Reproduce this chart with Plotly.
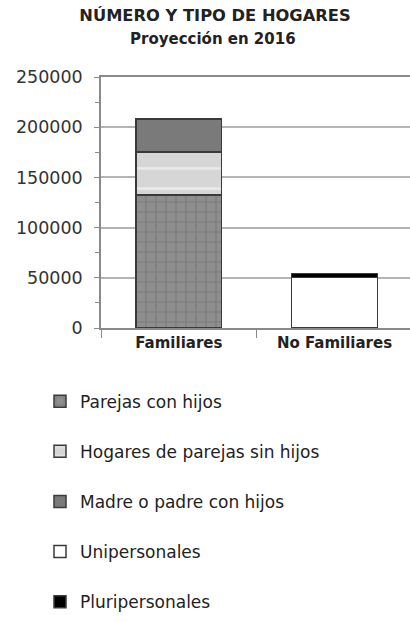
import plotly.graph_objects as go

categories = ["Familiares", "No Familiares"]
series_names = ["Parejas con hijos", "Hogares de parejas sin hijos", "Madre o padre con hijos",
                "Unipersonales", "Pluripersonales"]
series_category = ["Familiares", "Familiares", "Familiares", "No Familiares", "No Familiares"]
series_values = [132500, 43000, 32500, 50500, 4000]
y_ticks = [0, 50000, 100000, 150000, 200000, 250000]

styles = [
    dict(color="#8e8e8e", pattern=dict(shape="+", bgcolor="#8e8e8e", fgcolor="#666666", size=10, solidity=0.22)),
    dict(color="#d6d6d6", pattern=dict(shape="-", bgcolor="#d6d6d6", fgcolor="#ffffff", size=20.3, solidity=0.12)),
    dict(color="#7a7a7a"),
    dict(color="#ffffff"),
    dict(color="#000000"),
]

fig = go.Figure()
for i, (name, cat, val) in enumerate(zip(series_names, series_category, series_values)):
    m = dict(styles[i])
    m["line"] = dict(color="#3a3a3a", width=1.5)
    fig.add_trace(go.Bar(x=[cat], y=[val], name=name, marker=m, legendgroup=f"g{i}"))

L, T, PW, PH = 101, 77, 309, 251

fig.update_layout(
    width=410, height=622,
    barmode="stack", bargap=0.45,
    plot_bgcolor="white", paper_bgcolor="white",
    margin=dict(l=L, r=0, t=T, b=622 - T - PH),
    font=dict(family="DejaVu Sans", color="#222222"),
    title=dict(text="<b>NÚMERO Y TIPO DE HOGARES</b>", x=215 / 410, xanchor="center",
               y=1 - 15 / 622, yanchor="middle", font=dict(size=16.3, family="DejaVu Sans")),
    annotations=[dict(text="<b>Proyección en 2016</b>", xref="paper", yref="paper",
                      x=(213 - L) / PW, y=1 + (T - 39) / PH, xanchor="center", yanchor="middle",
                      showarrow=False, font=dict(size=15, family="DejaVu Sans"))],
    showlegend=True,
    legend=dict(x=(40 - L) / PW, y=-0.222, xref="paper", yref="paper",
                xanchor="left", yanchor="top", traceorder="grouped", tracegroupgap=25,
                font=dict(size=17, family="DejaVu Sans", color="#222222"),
                bgcolor="rgba(0,0,0,0)"),
    xaxis=dict(categoryorder="array", categoryarray=categories, range=[-0.5, 1.485],
               showline=True, linecolor="#8a8a8a", linewidth=1.5, mirror=True,
               ticks="outside", tickson="boundaries", ticklen=8, tickcolor="#8a8a8a",
               tickfont=dict(size=15, family="DejaVu Sans", color="#222222", weight="bold"),
               showgrid=False),
    yaxis=dict(range=[0, 250000], tickvals=y_ticks, ticktext=[str(v) for v in y_ticks],
               showline=True, linecolor="#8a8a8a", linewidth=1.5,
               ticks="outside", ticklen=5, tickcolor="#8a8a8a",
               minor=dict(tickvals=[25000, 75000, 125000, 175000, 225000], ticks="outside",
                          ticklen=4, tickcolor="#8a8a8a"),
               gridcolor="#b4b4b4", gridwidth=2,
               tickfont=dict(size=17.5, family="DejaVu Sans", color="#333333"),
               ticklabelstandoff=8, zeroline=False),
)

fig.write_html("out.html", config={"displayModeBar": False},
               post_script="document.body.style.margin='0';")
